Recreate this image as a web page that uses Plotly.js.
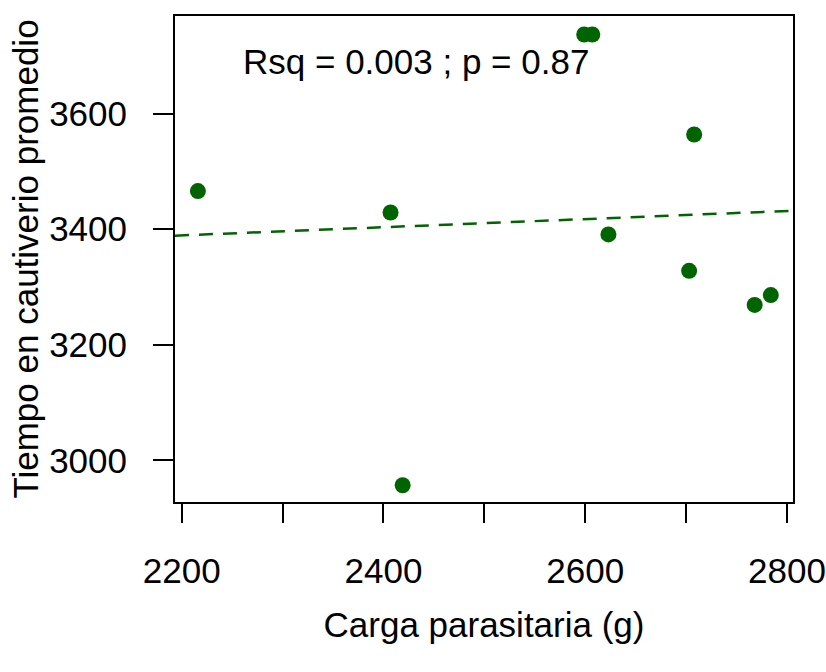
<!DOCTYPE html>
<html>
<head>
<meta charset="utf-8">
<script src="https://cdn.plot.ly/plotly-3.0.1.min.js"></script>
<style>html,body{margin:0;padding:0;background:#fff;}#chart{width:826px;height:672px;}</style>
</head>
<body>
<div id="chart"></div>
<script>
// Data
const cargaParasitaria = [2216, 2407, 2419, 2599, 2607, 2623, 2703, 2708, 2768, 2784];
const tiempoCautiverio = [3466, 3429, 2957, 3737, 3737, 3391, 3328, 3564, 3269, 3286];
const xTickVals = [2200, 2300, 2400, 2500, 2600, 2700, 2800];
const xTickText = ['2200', '', '2400', '', '2600', '', '2800'];
const yTickVals = [3000, 3200, 3400, 3600];
const yTickText = ['3000', '3200', '3400', '3600'];
const statsLabel = 'Rsq = 0.003 ; p = 0.87';
const xTitle = 'Carga parasitaria (g)';
const yTitle = 'Tiempo en cautiverio promedio';

const xRange = [2193.3, 2806];
const yRange = [2928, 3769];

// Least-squares fit (abline of lm)
const n = cargaParasitaria.length;
const mx = cargaParasitaria.reduce((a, b) => a + b, 0) / n;
const my = tiempoCautiverio.reduce((a, b) => a + b, 0) / n;
let sxy = 0, sxx = 0;
for (let i = 0; i < n; i++) {
  sxy += (cargaParasitaria[i] - mx) * (tiempoCautiverio[i] - my);
  sxx += (cargaParasitaria[i] - mx) ** 2;
}
const slope = sxy / sxx;
const intercept = my - slope * mx;
const fitX = xRange.slice();
const fitY = fitX.map(v => intercept + slope * v);

const green = '#006400';
const font = {family: 'Liberation Sans, Arial, Helvetica, sans-serif', size: 35, color: '#000'};

const traces = [
  {
    x: fitX, y: fitY, mode: 'lines', type: 'scatter',
    line: {color: green, width: 2.5, dash: '14px,10px'},
    hoverinfo: 'skip', showlegend: false, cliponaxis: true
  },
  {
    x: cargaParasitaria, y: tiempoCautiverio, mode: 'markers', type: 'scatter',
    marker: {color: green, size: 16, line: {width: 0}},
    showlegend: false, cliponaxis: false
  }
];

const layout = {
  width: 826, height: 672,
  margin: {l: 175, r: 33, t: 16, b: 170, pad: 0},
  paper_bgcolor: '#fff', plot_bgcolor: '#fff',
  font: font,
  showlegend: false,
  xaxis: {
    range: xRange, autorange: false,
    tickmode: 'array', tickvals: xTickVals, ticktext: xTickText,
    ticks: 'outside', ticklen: 19, tickwidth: 2, tickcolor: '#000',
    showline: true, linecolor: '#000', linewidth: 2, mirror: true,
    showgrid: false, zeroline: false,
    tickfont: font, ticklabelstandoff: 18,
    title: {text: xTitle, font: font, standoff: 23}
  },
  yaxis: {
    range: yRange, autorange: false,
    tickmode: 'array', tickvals: yTickVals, ticktext: yTickText,
    ticks: 'outside', ticklen: 20, tickwidth: 2, tickcolor: '#000',
    showline: true, linecolor: '#000', linewidth: 2, mirror: true,
    showgrid: false, zeroline: false,
    tickfont: font, ticklabelstandoff: 19,
    title: {text: yTitle, font: font, standoff: 0}
  },
  annotations: [{
    x: 2432, y: 3690, xref: 'x', yref: 'y',
    text: statsLabel, showarrow: false,
    xanchor: 'center', yanchor: 'middle',
    font: font
  }]
};

Plotly.newPlot('chart', traces, layout, {staticPlot: true, displayModeBar: false});
</script>
</body>
</html>
